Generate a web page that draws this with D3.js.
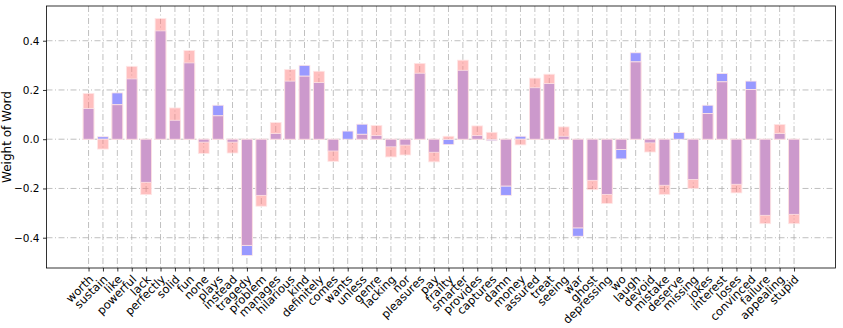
<!DOCTYPE html>
<html>
<head>
<meta charset="utf-8">
<script src="https://cdn.jsdelivr.net/npm/d3@7/dist/d3.min.js"></script>
<style>
  html, body { margin: 0; padding: 0; background: #fff; }
  svg { display: block; font-family: "DejaVu Sans", sans-serif; }
</style>
</head>
<body>
<svg id="chart" width="843" height="328"></svg>
<script>
const words = ["worth","sustain","like","powerful","lack","perfectly","solid","fun","none","plays",
  "instead","tragedy","problem","manages","hilarious","kind","definitely","comes","wants","unless",
  "genre","lacking","nor","pleasures","pay","frailty","smarter","provides","captures","damn",
  "money","assured","treat","seeing","war","ghost","depressing","wo","laugh","devoid",
  "mistake","deserve","missing","jokes","interest","loses","convinced","failure","appealing","stupid"];

// pink (red) series
const seriesA = [0.186,-0.040,0.140,0.296,-0.225,0.490,0.127,0.360,-0.058,0.095,
  -0.056,-0.431,-0.272,0.068,0.283,0.256,0.276,-0.090,0.000,0.020,
  0.056,-0.072,-0.064,0.308,-0.092,0.012,0.321,0.054,0.028,-0.190,
  -0.023,0.248,0.264,0.050,-0.360,-0.205,-0.261,-0.042,0.314,-0.052,
  -0.224,0.000,-0.200,0.104,0.233,-0.218,0.202,-0.343,0.060,-0.343];

// blue series
const seriesB = [0.125,0.010,0.188,0.245,-0.175,0.440,0.077,0.310,-0.012,0.138,
  -0.012,-0.472,-0.228,0.023,0.236,0.300,0.230,-0.048,0.033,0.061,
  0.015,-0.031,-0.024,0.268,-0.053,-0.022,0.280,0.015,-0.006,-0.228,
  0.012,0.209,0.226,0.012,-0.394,-0.167,-0.224,-0.080,0.351,-0.015,
  -0.187,0.027,-0.164,0.138,0.267,-0.183,0.236,-0.309,0.023,-0.305];

const yTicks = [-0.4, -0.2, 0.0, 0.2, 0.4];
const yLabel = "Weight of Word";

const svg = d3.select("#chart");
const L = 46.5, R = 835.5, T = 6, B = 268;

const x = d3.scaleLinear().domain([-2.92, words.length - 1 + 2.88]).range([L, R]);
const y = d3.scaleLinear().domain([-0.523, 0.541]).range([B, T]);
const bw = 0.75;
const barW = x(bw) - x(0);

// grid
const grid = svg.append("g");
grid.selectAll("line.v").data(words).join("line")
  .attr("x1", (d,i) => x(i)).attr("x2", (d,i) => x(i))
  .attr("y1", T).attr("y2", B)
  .attr("stroke", "#b0b0b0").attr("stroke-width", 0.8)
  .attr("stroke-dasharray", "6,2.5,1,2.5");
grid.selectAll("line.h").data(yTicks).join("line")
  .attr("x1", L).attr("x2", R)
  .attr("y1", d => y(d)).attr("y2", d => y(d))
  .attr("stroke", "#b0b0b0").attr("stroke-width", 0.8)
  .attr("stroke-dasharray", "6,2.5,1,2.5");

const data = words.map((w,i) => {
  const a = seriesA[i], b = seriesB[i];
  let ov = 0;
  if (a * b > 0) ov = Math.sign(a) * Math.min(Math.abs(a), Math.abs(b));
  return {w, i, a, b, ov};
});

function rect(g, accessor, fill, opacity) {
  g.selectAll(null).data(data).join("rect")
    .attr("x", d => x(d.i) - barW/2)
    .attr("width", barW)
    .attr("y", d => y(Math.max(0, accessor(d))))
    .attr("height", d => Math.abs(y(accessor(d)) - y(0)))
    .attr("fill", fill)
    .attr("fill-opacity", opacity)
    .attr("stroke", "#ffe6e6")
    .attr("stroke-width", 0.8);
}

const bars = svg.append("g");
rect(bars, d => d.b, "#9999ff", 1);
rect(bars, d => d.a, "#ff8080", 0.5);
rect(bars, d => d.ov, "#cc99cc", 1);

// axes
const yAxis = d3.axisLeft(y).tickValues(yTicks).tickSize(3.5).tickPadding(3.5)
  .tickFormat(d => d3.format(".1f")(d).replace("-", "\u2212"));
const gy = svg.append("g").attr("transform", `translate(${L},0)`).call(yAxis);
gy.select(".domain").remove();
gy.selectAll("text").attr("font-size", 10.5).attr("fill", "#000").attr("font-family", "DejaVu Sans");
gy.selectAll("line").attr("stroke", "#000").attr("stroke-width", 0.8);

const xAxis = d3.axisBottom(x).tickValues(d3.range(words.length)).tickSize(3.5)
  .tickFormat(i => words[i]);
const gx = svg.append("g").attr("transform", `translate(0,${B})`).call(xAxis);
gx.select(".domain").remove();
gx.selectAll("line").attr("stroke", "#000").attr("stroke-width", 0.8);
gx.selectAll("text")
  .attr("font-size", 11.5).attr("fill", "#000").attr("font-family", "DejaVu Sans")
  .attr("text-anchor", "end")
  .attr("dy", "0")
  .attr("y", 0)
  .attr("transform", "translate(5,12) rotate(-45)");

// frame
svg.append("rect").attr("x", L).attr("y", T).attr("width", R - L).attr("height", B - T)
  .attr("fill", "none").attr("stroke", "#000").attr("stroke-width", 0.8);

// y label
svg.append("text")
  .attr("transform", `translate(11,${(T + B)/2}) rotate(-90)`)
  .attr("text-anchor", "middle")
  .attr("font-size", 12)
  .attr("font-family", "DejaVu Sans")
  .text(yLabel);
</script>
</body>
</html>
